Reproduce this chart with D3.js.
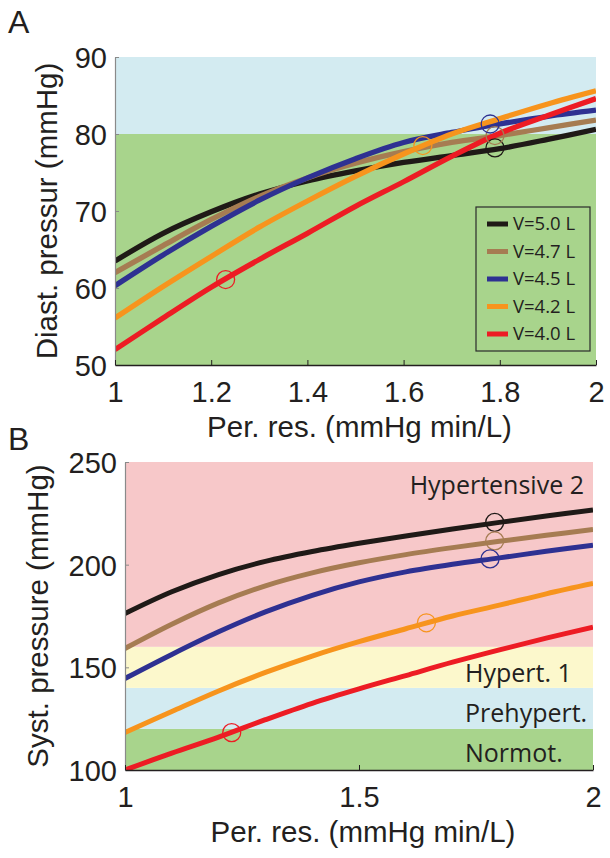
<!DOCTYPE html>
<html>
<head>
<meta charset="utf-8">
<script src="https://cdn.jsdelivr.net/npm/d3@7"></script>
<style>
  html, body { margin: 0; padding: 0; background: #fff; }
  svg { display: block; }
</style>
</head>
<body>
<svg id="chart" width="610" height="858"></svg>
<script>
// ---------- DATA ----------
const perRes = [1.0, 1.1, 1.2, 1.3, 1.4, 1.5, 1.6, 1.7, 1.8, 1.9, 2.0];
const seriesNames = ["V=5.0 L", "V=4.7 L", "V=4.5 L", "V=4.2 L", "V=4.0 L"];
const seriesColors = ["#1f1a17", "#a67c52", "#2e3192", "#f7941d", "#ed1c24"];

// Panel A: diastolic pressure (mmHg)
const diastV50 = [63.5, 67.1, 69.9, 72.2, 73.9, 75.2, 76.3, 77.2, 78.1, 79.3, 80.6];
const diastV47 = [62.0, 65.5, 68.9, 71.9, 74.3, 76.2, 77.7, 78.9, 79.8, 80.8, 81.8];
const diastV45 = [60.3, 64.3, 68.0, 71.4, 74.3, 76.8, 78.9, 80.2, 81.3, 82.3, 83.1];
const diastV42 = [56.1, 60.2, 64.1, 67.9, 71.3, 74.5, 77.4, 80.0, 82.0, 83.9, 85.6];
const diastV40 = [52.0, 56.1, 60.1, 63.7, 67.1, 70.6, 73.8, 77.1, 80.1, 82.4, 84.6];
const diastMarkX = [1.79, 1.79, 1.78, 1.64, 1.23];
const diastMarkY = [78.2, 79.8, 81.3, 78.5, 61.1];

// Panel B: systolic pressure (mmHg)
const systV50 = [176.2, 186.8, 195.2, 201.6, 206.4, 210.4, 214.0, 217.4, 220.6, 223.7, 226.6];
const systV47 = [159.2, 171.0, 181.4, 189.7, 196.0, 200.9, 204.9, 208.3, 211.4, 214.3, 217.1];
const systV45 = [144.6, 156.3, 167.3, 177.0, 185.1, 191.6, 196.5, 200.2, 203.3, 206.5, 209.5];
const systV42 = [118.3, 128.5, 138.5, 147.5, 155.5, 162.5, 168.8, 175.0, 180.3, 185.8, 190.8];
const systV40 = [100.0, 108.2, 116.0, 124.5, 132.5, 139.5, 146.0, 152.5, 158.5, 164.2, 169.5];
const systMarkX = [1.79, 1.79, 1.78, 1.644, 1.228];
const systMarkY = [220.6, 211.6, 202.8, 171.7, 118.2];

// Tick values
const xTicksA = [1, 1.2, 1.4, 1.6, 1.8, 2];
const yTicksA = [50, 60, 70, 80, 90];
const xTicksB = [1, 1.5, 2];
const yTicksB = [100, 150, 200, 250];

// Background bands
const bandsA = [
  {lo: 50, hi: 80, color: "#a8d48c"},
  {lo: 80, hi: 90, color: "#d3ebf1"}
];
const bandsB = [
  {lo: 100, hi: 120, color: "#a8d48c", label: "Normot."},
  {lo: 120, hi: 140, color: "#d3ebf1", label: "Prehypert."},
  {lo: 140, hi: 160, color: "#fcf8cc", label: "Hypert. 1"},
  {lo: 160, hi: 250, color: "#f7c8c9", label: "Hypertensive 2"}
];

// ---------- DRAW ----------
const svg = d3.select("#chart");
const tickFont = "'Liberation Sans', Arial, Helvetica, sans-serif";
const myriadFont = "'Open Sans', 'Noto Sans', sans-serif";
const textColor = "#231f20";

function panel(cfg) {
  const x = d3.scaleLinear().domain([1, 2]).range([cfg.left, cfg.right]);
  const y = d3.scaleLinear().domain(cfg.yDomain).range([cfg.bottom, cfg.top]);
  const g = svg.append("g");

  const clipId = "clip" + cfg.id;
  svg.append("defs").append("clipPath").attr("id", clipId)
    .append("rect")
    .attr("x", cfg.left).attr("y", cfg.top)
    .attr("width", cfg.right - cfg.left).attr("height", cfg.bottom - cfg.top);

  // bands
  g.selectAll("rect.band").data(cfg.bands).join("rect")
    .attr("class", "band")
    .attr("x", x(1)).attr("width", x(2) - x(1))
    .attr("y", d => y(d.hi)).attr("height", d => y(d.lo) - y(d.hi))
    .attr("fill", d => d.color);

  // lines
  const line = d3.line()
    .x((d, i) => x(perRes[i]))
    .y(d => y(d))
    .curve(d3.curveCatmullRom.alpha(0.5));
  const lg = g.append("g").attr("clip-path", `url(#${clipId})`);
  lg.selectAll("path").data(cfg.series).join("path")
    .attr("d", d => line(d))
    .attr("fill", "none")
    .attr("stroke", (d, i) => seriesColors[i])
    .attr("stroke-width", cfg.lineWidth)
    .attr("stroke-linecap", "butt");

  // markers
  g.selectAll("circle.mark").data(cfg.markX).join("circle")
    .attr("class", "mark")
    .attr("cx", d => x(d))
    .attr("cy", (d, i) => y(cfg.markY[i]))
    .attr("r", 9)
    .attr("fill", "none")
    .attr("stroke", (d, i) => seriesColors[i])
    .attr("stroke-width", 1.3);

  // axes
  const yAxis = g.append("g")
    .attr("transform", `translate(${cfg.left},0)`)
    .call(d3.axisLeft(y).tickValues(cfg.yTicks).tickSize(-4).tickSizeOuter(0).tickPadding(8).tickFormat(d3.format("d")));
  yAxis.select(".domain").attr("stroke", "#8a8a8a").attr("stroke-width", 1.2);
  yAxis.selectAll(".tick line").attr("stroke", "#8a8a8a");
  yAxis.selectAll("text").attr("font-family", tickFont).attr("font-size", 29).attr("fill", textColor).attr("dy", "0.36em");

  const xAxis = g.append("g")
    .attr("transform", `translate(0,${cfg.bottom})`)
    .call(d3.axisBottom(x).tickValues(cfg.xTicks).tickSize(-5).tickSizeOuter(0).tickPadding(16).tickFormat(d => String(d)));
  xAxis.select(".domain").attr("stroke", textColor).attr("stroke-width", 1.6);
  xAxis.selectAll(".tick line").attr("stroke", textColor);
  xAxis.selectAll("text").attr("font-family", tickFont).attr("font-size", 29).attr("fill", textColor);

  // axis titles
  svg.append("text")
    .attr("x", (cfg.left + cfg.right) / 2 + 4)
    .attr("y", cfg.bottom + 72)
    .attr("text-anchor", "middle")
    .attr("font-family", tickFont).attr("font-size", 29.5).attr("fill", textColor)
    .text("Per. res. (mmHg min/L)");

  svg.append("text")
    .attr("transform", `translate(${cfg.yTitleX},${(cfg.top + cfg.bottom) / 2}) rotate(-90)`)
    .attr("text-anchor", "middle")
    .attr("font-family", tickFont).attr("font-size", 29.5).attr("fill", textColor)
    .text(cfg.yTitle);

  // panel letter
  svg.append("text")
    .attr("x", cfg.letterX).attr("y", cfg.letterY)
    .attr("font-family", tickFont).attr("font-size", 32).attr("fill", textColor)
    .text(cfg.letter);

  return {x, y, g};
}

// Panel A
const pA = panel({
  id: "A", left: 115, right: 596, top: 57, bottom: 365,
  yDomain: [50, 90], bands: bandsA,
  series: [diastV50, diastV47, diastV45, diastV42, diastV40],
  markX: diastMarkX, markY: diastMarkY,
  xTicks: xTicksA, yTicks: yTicksA, lineWidth: 5.3,
  yTitle: "Diast. pressur (mmHg)", yTitleX: 57,
  letter: "A", letterX: 8, letterY: 33
});

// Legend (panel A)
const legX = 476, legY = 207, legW = 114, legH = 144;
pA.g.append("rect")
  .attr("x", legX).attr("y", legY).attr("width", legW).attr("height", legH)
  .attr("fill", "none").attr("stroke", "#2b2b2b").attr("stroke-width", 1.2);
const legItems = pA.g.selectAll("g.leg").data(seriesNames).join("g")
  .attr("class", "leg")
  .attr("transform", (d, i) => `translate(0,${224 + i * 27.5})`);
legItems.append("line")
  .attr("x1", 487).attr("x2", 508).attr("y1", 0).attr("y2", 0)
  .attr("stroke", (d, i) => seriesColors[i]).attr("stroke-width", 5);
legItems.append("text")
  .attr("x", 513).attr("y", 0).attr("dy", "0.35em")
  .attr("font-family", myriadFont).attr("font-size", 18.5).attr("fill", textColor)
  .text(d => d);

// Panel B
const pB = panel({
  id: "B", left: 125, right: 593, top: 462, bottom: 770,
  yDomain: [100, 250], bands: bandsB,
  series: [systV50, systV47, systV45, systV42, systV40],
  markX: systMarkX, markY: systMarkY,
  xTicks: xTicksB, yTicks: yTicksB, lineWidth: 5,
  yTitle: "Syst. pressure (mmHg)", yTitleX: 48,
  letter: "B", letterX: 8, letterY: 450
});

// Band labels (panel B)
const labelPos = [
  {x: 465, y: 762, anchor: "start"},
  {x: 465, y: 722, anchor: "start"},
  {x: 465, y: 682, anchor: "start"},
  {x: 584, y: 494, anchor: "end"}
];
pB.g.selectAll("text.band").data(bandsB).join("text")
  .attr("class", "band")
  .attr("x", (d, i) => labelPos[i].x)
  .attr("y", (d, i) => labelPos[i].y)
  .attr("text-anchor", (d, i) => labelPos[i].anchor)
  .attr("font-family", myriadFont).attr("font-size", 25).attr("fill", textColor)
  .text(d => d.label);
</script>
</body>
</html>
